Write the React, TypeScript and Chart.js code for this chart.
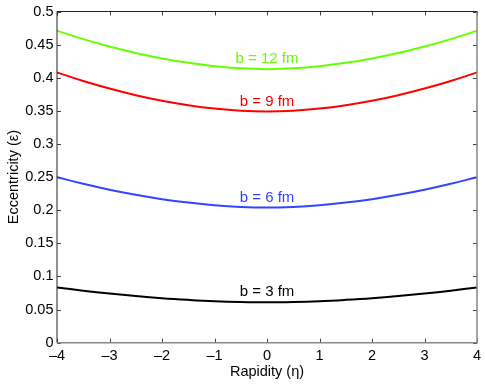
import { useEffect, useRef } from "react";
import { Chart, registerables } from "chart.js";

Chart.register(...registerables);

const rapidity = [-4, -3.5, -3, -2.5, -2, -1.5, -1, -0.5, 0, 0.5, 1, 1.5, 2, 2.5, 3, 3.5, 4];

const ecc12 = [0.471, 0.4583, 0.4471, 0.4373, 0.4291, 0.4225, 0.4175, 0.4142, 0.413, 0.4142, 0.4175, 0.4225, 0.4291, 0.4373, 0.4471, 0.4583, 0.471];
const ecc9 = [0.408, 0.3951, 0.3837, 0.3737, 0.3653, 0.3586, 0.3535, 0.3502, 0.349, 0.3502, 0.3535, 0.3586, 0.3653, 0.3737, 0.3837, 0.3951, 0.408];
const ecc6 = [0.25, 0.2399, 0.231, 0.2233, 0.2167, 0.2115, 0.2075, 0.205, 0.204, 0.205, 0.2075, 0.2115, 0.2167, 0.2233, 0.231, 0.2399, 0.25];
const ecc3 = [0.0835, 0.0786, 0.0742, 0.0704, 0.0672, 0.0647, 0.0627, 0.0615, 0.061, 0.0615, 0.0627, 0.0647, 0.0672, 0.0704, 0.0742, 0.0786, 0.0835];

const seriesLabels = ["b = 12 fm", "b = 9 fm", "b = 6 fm", "b = 3 fm"];
const seriesValues = [ecc12, ecc9, ecc6, ecc3];
const seriesColors = ["#66ff00", "#ff0000", "#3344ff", "#000000"];

const xTicks = [-4, -3, -2, -1, 0, 1, 2, 3, 4];
const xTickLabels = ["–4", "–3", "–2", "–1", "0", "1", "2", "3", "4"];
const yTicks = [0, 0.05, 0.1, 0.15, 0.2, 0.25, 0.3, 0.35, 0.4, 0.45, 0.5];
const yTickLabels = ["0", "0.05", "0.1", "0.15", "0.2", "0.25", "0.3", "0.35", "0.4", "0.45", "0.5"];

const xTitle = "Rapidity (η)";
const yTitle = "Eccentricity (ε)";

const FONT = "'Liberation Sans', Arial, Helvetica, sans-serif";

const framePlugin = {
  id: "matlabFrame",
  afterDraw(chart: any) {
    const { ctx, chartArea } = chart;
    const { left, right, top, bottom } = chartArea;
    const xs = chart.scales.x;
    const ys = chart.scales.y;
    ctx.save();
    // inner ticks
    ctx.lineWidth = 1;
    ctx.strokeStyle = "#444";
    const tl = 4;
    xTicks.forEach((v) => {
      const px = Math.round(xs.getPixelForValue(v)) + 0.5;
      ctx.beginPath();
      ctx.moveTo(px, bottom);
      ctx.lineTo(px, bottom - tl);
      ctx.moveTo(px, top);
      ctx.lineTo(px, top + tl);
      ctx.stroke();
    });
    yTicks.forEach((v) => {
      const py = Math.round(ys.getPixelForValue(v)) + 0.5;
      ctx.beginPath();
      ctx.moveTo(left, py);
      ctx.lineTo(left + tl, py);
      ctx.moveTo(right, py);
      ctx.lineTo(right - tl, py);
      ctx.stroke();
    });
    // box
    ctx.strokeStyle = "#222";
    ctx.lineWidth = 1;
    ctx.beginPath();
    ctx.moveTo(left, bottom);
    ctx.lineTo(left, top);
    ctx.lineTo(right, top);
    ctx.stroke();
    ctx.strokeStyle = "#888";
    ctx.lineWidth = 1.5;
    ctx.beginPath();
    ctx.moveTo(left, bottom);
    ctx.lineTo(right, bottom);
    ctx.lineTo(right, top);
    ctx.stroke();

    // tick labels
    ctx.fillStyle = "#000";
    ctx.font = `14.5px ${FONT}`;
    ctx.textBaseline = "middle";
    ctx.textAlign = "center";
    xTicks.forEach((v, i) => {
      ctx.fillText(xTickLabels[i], xs.getPixelForValue(v), bottom + 13);
    });
    ctx.textAlign = "right";
    yTicks.forEach((v, i) => {
      ctx.fillText(yTickLabels[i], left - 3.5, ys.getPixelForValue(v));
    });

    // curve labels
    ctx.font = `15px ${FONT}`;
    ctx.textAlign = "center";
    seriesLabels.forEach((lab, i) => {
      const vals = seriesValues[i];
      const minV = Math.min(...vals);
      ctx.fillStyle = seriesColors[i];
      ctx.fillText(lab, xs.getPixelForValue(0), ys.getPixelForValue(minV) - 10);
    });

    // axis titles
    ctx.fillStyle = "#000";
    ctx.font = `14.5px ${FONT}`;
    ctx.fillText(xTitle, (left + right) / 2, 372);
    ctx.translate(14, (top + bottom) / 2);
    ctx.rotate(-Math.PI / 2);
    ctx.fillText(yTitle, 0, 0);
    ctx.restore();
  },
};

export default function App() {
  const ref = useRef<HTMLCanvasElement | null>(null);
  useEffect(() => {
    if (!ref.current) return;
    const chart = new Chart(ref.current, {
      type: "line",
      data: {
        datasets: seriesValues.map((vals, i) => ({
          label: seriesLabels[i],
          data: rapidity.map((x, j) => ({ x, y: vals[j] })),
          borderColor: seriesColors[i],
          borderWidth: 2,
          pointRadius: 0,
          tension: 0.4,
          fill: false,
        })),
      },
      options: {
        responsive: false,
        animation: false,
        events: [],
        layout: { padding: { left: 57, right: 8, top: 11.5, bottom: 41.3 } },
        plugins: { legend: { display: false }, tooltip: { enabled: false } },
        scales: {
          x: { type: "linear", min: -4, max: 4, display: false },
          y: { type: "linear", min: 0, max: 0.5, display: false },
        },
      },
      plugins: [framePlugin],
    });
    return () => chart.destroy();
  }, []);
  return (
    <div style={{ position: "fixed", left: 0, top: 0, width: 485, height: 384, background: "#fff" }}>
      <canvas ref={ref} width={485} height={384} style={{ width: 485, height: 384 }} />
    </div>
  );
}
